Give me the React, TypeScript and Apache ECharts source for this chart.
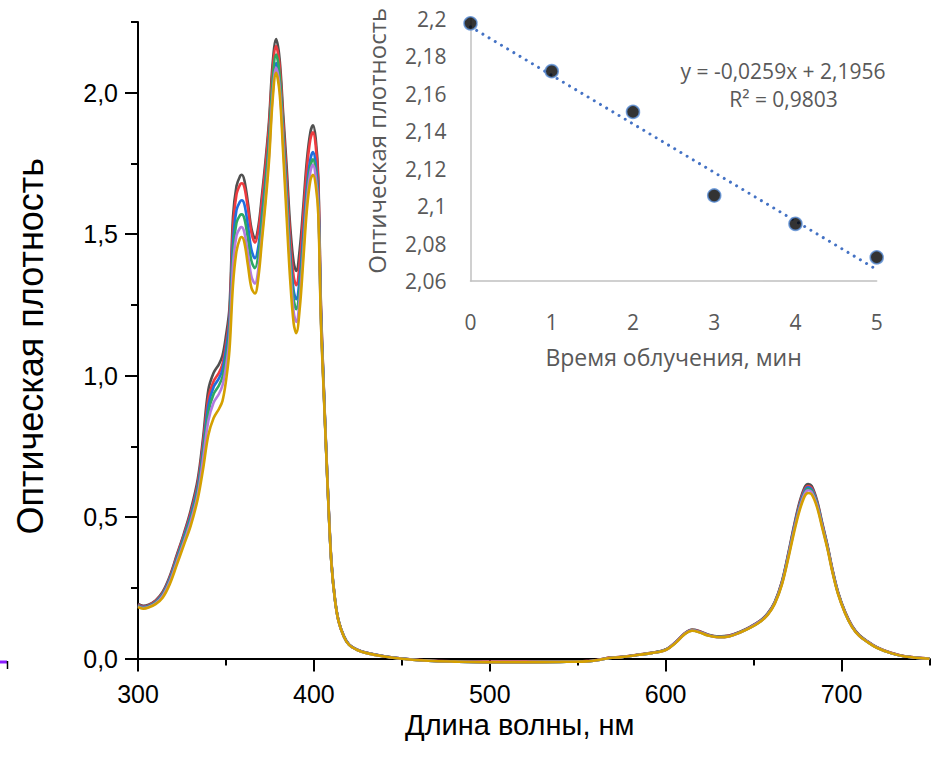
import React, { useEffect, useRef } from "react";
import * as echarts from "echarts";

// ---------- main spectrum data ----------
const wavelengths = [
  300, 303, 306, 310, 314, 318, 322, 326, 330, 334,
  337, 340, 343, 346, 348, 350, 352, 354, 356, 358,
  359, 360.5, 362.5, 364.5, 366.5, 368.5, 370.5, 372.5, 374.5, 376.5,
  378.5, 380.5, 382.5, 384.5, 386.5, 388.5, 390, 392, 394, 396,
  398, 399.5, 401, 402.5, 404,
  405.5, 407, 408.5, 410, 412, 414, 417, 420, 425, 430,
  440, 450, 465, 480, 500, 520, 540, 555, 562, 568,
  575, 585, 592, 600, 606, 611, 615, 619, 624, 630,
  636, 642, 648, 654, 658, 662, 666, 670, 673, 676,
  679, 681, 683, 686, 689, 692, 695, 698, 702, 706,
  710, 715, 720, 728, 736, 750,
];

const seriesNames = ["0 мин", "1 мин", "2 мин", "3 мин", "4 мин", "5 мин"];
const seriesColors = ["#505050", "#ee3b3f", "#1f6fdf", "#2da862", "#b27ae0", "#d4a000"];

const gray = [
  0.193, 0.186, 0.19, 0.205, 0.235, 0.29, 0.365, 0.44, 0.525, 0.635,
  0.78, 0.95, 1.01, 1.04, 1.07, 1.14, 1.24, 1.56, 1.67, 1.705,
  1.71, 1.69, 1.61, 1.52, 1.485, 1.53, 1.64, 1.76, 1.9, 2.1,
  2.19, 2.12, 1.93, 1.74, 1.53, 1.4, 1.37, 1.45, 1.6, 1.76,
  1.86, 1.885, 1.84, 1.7, 1.25,
  0.98, 0.74, 0.52, 0.34, 0.21, 0.135, 0.08, 0.05, 0.03, 0.02,
  0.008, 0, -0.007, -0.01, -0.012, -0.012, -0.011, -0.009, -0.004, 0.003,
  0.006, 0.014, 0.02, 0.032, 0.06, 0.09, 0.102, 0.097, 0.085, 0.078,
  0.081, 0.094, 0.112, 0.135, 0.16, 0.2, 0.27, 0.38, 0.47, 0.55,
  0.605, 0.617, 0.61, 0.56, 0.48, 0.4, 0.31, 0.235, 0.165, 0.115,
  0.083, 0.06, 0.04, 0.02, 0.008, 0,
];
const red = [
  0.19, 0.184, 0.188, 0.203, 0.232, 0.285, 0.36, 0.435, 0.515, 0.62,
  0.76, 0.92, 0.98, 1.01, 1.04, 1.11, 1.21, 1.52, 1.64, 1.675,
  1.68, 1.665, 1.59, 1.505, 1.47, 1.515, 1.62, 1.74, 1.88, 2.075,
  2.165, 2.095, 1.9, 1.7, 1.49, 1.35, 1.32, 1.405, 1.565, 1.73,
  1.835, 1.86, 1.815, 1.68, 1.24,
  0.975, 0.735, 0.515, 0.336, 0.208, 0.134, 0.079, 0.049, 0.03, 0.02,
  0.008, 0, -0.007, -0.01, -0.012, -0.012, -0.011, -0.009, -0.004, 0.003,
  0.006, 0.014, 0.02, 0.032, 0.06, 0.09, 0.101, 0.096, 0.084, 0.077,
  0.08, 0.093, 0.111, 0.134, 0.158, 0.198, 0.268, 0.376, 0.465, 0.543,
  0.597, 0.61, 0.603, 0.555, 0.476, 0.397, 0.308, 0.233, 0.164, 0.114,
  0.082, 0.059, 0.04, 0.02, 0.008, 0,
];
const blue = [
  0.188, 0.182, 0.186, 0.2, 0.228, 0.28, 0.353, 0.428, 0.505, 0.607,
  0.74, 0.895, 0.96, 0.99, 1.02, 1.09, 1.19, 1.47, 1.585, 1.615,
  1.62, 1.605, 1.53, 1.445, 1.415, 1.46, 1.57, 1.69, 1.83, 2.02,
  2.105, 2.04, 1.85, 1.65, 1.44, 1.3, 1.27, 1.35, 1.5, 1.665,
  1.765, 1.79, 1.75, 1.63, 1.22,
  0.97, 0.732, 0.513, 0.335, 0.207, 0.133, 0.079, 0.049, 0.03, 0.02,
  0.008, 0, -0.008, -0.011, -0.013, -0.013, -0.012, -0.01, -0.005, 0.002,
  0.005, 0.013, 0.019, 0.031, 0.059, 0.089, 0.1, 0.095, 0.083, 0.076,
  0.079, 0.092, 0.11, 0.133, 0.157, 0.197, 0.266, 0.373, 0.461, 0.538,
  0.592, 0.605, 0.598, 0.551, 0.473, 0.395, 0.306, 0.232, 0.163, 0.113,
  0.081, 0.058, 0.039, 0.019, 0.007, -0.001,
];
const green = [
  0.186, 0.18, 0.184, 0.198, 0.225, 0.275, 0.347, 0.42, 0.495, 0.595,
  0.725, 0.87, 0.935, 0.965, 0.995, 1.06, 1.16, 1.43, 1.54, 1.567,
  1.57, 1.555, 1.485, 1.405, 1.38, 1.43, 1.55, 1.68, 1.83, 2.04,
  2.135, 2.065, 1.86, 1.64, 1.42, 1.27, 1.235, 1.315, 1.47, 1.64,
  1.74, 1.765, 1.725, 1.61, 1.21,
  0.968, 0.731, 0.512, 0.334, 0.207, 0.133, 0.078, 0.048, 0.029, 0.019,
  0.007, -0.001, -0.008, -0.011, -0.013, -0.013, -0.012, -0.01, -0.005, 0.002,
  0.005, 0.013, 0.019, 0.031, 0.058, 0.088, 0.099, 0.094, 0.082, 0.076,
  0.079, 0.092, 0.109, 0.132, 0.156, 0.196, 0.264, 0.37, 0.457, 0.533,
  0.587, 0.6, 0.593, 0.547, 0.47, 0.393, 0.305, 0.231, 0.162, 0.112,
  0.081, 0.058, 0.039, 0.019, 0.007, -0.001,
];
const purple = [
  0.184, 0.178, 0.182, 0.195, 0.221, 0.27, 0.34, 0.41, 0.485, 0.58,
  0.705, 0.84, 0.905, 0.935, 0.965, 1.03, 1.13, 1.39, 1.495, 1.522,
  1.525, 1.505, 1.43, 1.35, 1.325, 1.38, 1.5, 1.63, 1.78, 1.99,
  2.088, 2.02, 1.82, 1.6, 1.38, 1.225, 1.19, 1.275, 1.44, 1.615,
  1.72, 1.745, 1.705, 1.595, 1.2,
  0.962, 0.73, 0.512, 0.334, 0.206, 0.132, 0.078, 0.048, 0.029, 0.019,
  0.007, -0.001, -0.008, -0.011, -0.013, -0.013, -0.012, -0.01, -0.005, 0.002,
  0.005, 0.013, 0.019, 0.03, 0.058, 0.088, 0.099, 0.094, 0.082, 0.075,
  0.078, 0.091, 0.109, 0.132, 0.155, 0.195, 0.262, 0.367, 0.453, 0.528,
  0.582, 0.595, 0.588, 0.543, 0.467, 0.391, 0.303, 0.23, 0.161, 0.112,
  0.08, 0.058, 0.039, 0.019, 0.007, -0.001,
];
const gold = [
  0.182, 0.176, 0.18, 0.192, 0.215, 0.262, 0.33, 0.4, 0.47, 0.565,
  0.67, 0.79, 0.85, 0.882, 0.91, 0.98, 1.09, 1.32, 1.44, 1.485,
  1.49, 1.47, 1.39, 1.31, 1.29, 1.35, 1.48, 1.61, 1.76, 1.97,
  2.07, 2.0, 1.79, 1.56, 1.34, 1.185, 1.15, 1.24, 1.41, 1.585,
  1.69, 1.71, 1.675, 1.57, 1.19,
  0.955, 0.728, 0.511, 0.333, 0.206, 0.132, 0.078, 0.048, 0.029, 0.019,
  0.007, -0.001, -0.008, -0.011, -0.013, -0.013, -0.012, -0.01, -0.005, 0.002,
  0.005, 0.013, 0.019, 0.03, 0.057, 0.087, 0.098, 0.093, 0.081, 0.075,
  0.078, 0.091, 0.108, 0.131, 0.154, 0.193, 0.259, 0.362, 0.446, 0.52,
  0.573, 0.585, 0.58, 0.536, 0.462, 0.387, 0.3, 0.228, 0.16, 0.111,
  0.08, 0.057, 0.038, 0.019, 0.007, -0.001,
];
const spectra = [gray, red, blue, green, purple, gold];

const mainXMajorTicks = [300, 400, 500, 600, 700];
const mainYMajorTicks = [0, 0.5, 1.0, 1.5, 2.0];

// ---------- inset data ----------
const timeMin = [0, 1, 2, 3, 4, 5];
const peakAbs = [2.1974, 2.1719, 2.1502, 2.1056, 2.0905, 2.0726];
const trendX = [0, 5];
const trendY = [2.1956, 2.0661];
const equationText = "y = -0,0259x + 2,1956";
const r2Text = "R² = 0,9803";

const MAIN_FONT = "'Liberation Sans', Arial, sans-serif";
const INSET_FONT = "'Open Sans', 'Noto Sans', sans-serif";

export default function App() {
  const ref = useRef<HTMLDivElement>(null);

  useEffect(() => {
    if (!ref.current) return;
    const chart = echarts.init(ref.current, undefined, { renderer: "svg" });

    const lineSeries = spectra.map((vals, si) => ({
      name: seriesNames[si],
      type: "line",
      xAxisIndex: 0,
      yAxisIndex: 0,
      data: wavelengths.map((w, i) => [w, vals[i]]),
      showSymbol: false,
      smooth: 0.35,
      clip: false,
      lineStyle: { color: seriesColors[si], width: 2.6 },
      itemStyle: { color: seriesColors[si] },
      z: 2 + si,
    }));

    const option: any = {
      animation: false,
      backgroundColor: "#ffffff",
      grid: [
        { left: 138, top: 22, right: 2.5, bottom: 103.5, containLabel: false },
        { left: 470.5, top: 18.5, right: 55.3, bottom: 481, containLabel: false },
      ],
      xAxis: [
        {
          type: "value", gridIndex: 0, min: 300, max: 750, interval: 50, position: "bottom",
          axisLine: { show: true, onZero: false, lineStyle: { color: "#000", width: 2 } },
          axisTick: { show: true, length: 7, lineStyle: { color: "#000", width: 2 } },
          axisLabel: { show: false },
          splitLine: { show: false },
        },
        {
          type: "value", gridIndex: 0, min: 300, max: 750, interval: 50, position: "bottom",
          axisLine: { show: false, onZero: false },
          axisTick: { show: true, length: 13, customValues: mainXMajorTicks, lineStyle: { color: "#000", width: 2 } },
          axisLabel: {
            show: true, customValues: mainXMajorTicks, fontSize: 25, color: "#000",
            fontFamily: MAIN_FONT, margin: 23,
          },
          splitLine: { show: false },
          name: "Длина волны, нм", nameLocation: "middle", nameGap: 52, nameMoveOverlap: false,
          nameTextStyle: { fontSize: 29, color: "#000", fontFamily: MAIN_FONT, padding: [0, 28, 0, 0] },
        },
        {
          type: "value", gridIndex: 1, min: 0, max: 5, interval: 1,
          axisLine: { show: true, onZero: false, lineStyle: { color: "#c0c0c0", width: 1.5 } },
          axisTick: { show: false },
          axisLabel: { fontSize: 21, color: "#595959", fontFamily: INSET_FONT, margin: 30 },
          splitLine: { show: false },
          name: "Время облучения, мин", nameLocation: "middle", nameGap: 64,
          nameTextStyle: { fontSize: 23, color: "#595959", fontFamily: INSET_FONT },
        },
      ],
      yAxis: [
        {
          type: "value", gridIndex: 0, min: 0, max: 2.25, interval: 0.25, position: "left",
          axisLine: { show: true, onZero: false, lineStyle: { color: "#000", width: 2 } },
          axisTick: { show: true, length: 7, lineStyle: { color: "#000", width: 2 } },
          axisLabel: { show: false },
          splitLine: { show: false },
          name: "Оптическая плотность", nameLocation: "middle", nameGap: 90, nameMoveOverlap: false,
          nameTextStyle: { fontSize: 36, color: "#000", fontFamily: MAIN_FONT, padding: [0, 12, 0, 0] },
        },
        {
          type: "value", gridIndex: 0, min: 0, max: 2.25, interval: 0.25, position: "left",
          axisLine: { show: false, onZero: false },
          axisTick: { show: true, length: 13, customValues: mainYMajorTicks, lineStyle: { color: "#000", width: 2 } },
          axisLabel: {
            show: true, customValues: mainYMajorTicks, fontSize: 25, color: "#000",
            fontFamily: MAIN_FONT, margin: 20,
            formatter: (v: number) => v.toFixed(1).replace(".", ","),
          },
          splitLine: { show: false },
        },
        {
          type: "value", gridIndex: 1, min: 2.06, max: 2.2, interval: 0.02,
          axisLine: { show: true, onZero: false, lineStyle: { color: "#c0c0c0", width: 1.5 } },
          axisTick: { show: false },
          axisLabel: {
            fontSize: 21, color: "#595959", fontFamily: INSET_FONT, margin: 24,
            formatter: (v: number) => String(parseFloat(v.toFixed(2))).replace(".", ","),
          },
          splitLine: { show: false },
          name: "Оптическая плотность", nameLocation: "middle", nameGap: 82,
          nameTextStyle: { fontSize: 24, color: "#595959", fontFamily: INSET_FONT, padding: [0, 0, 0, 18] },
        },
      ],
      series: [
        ...lineSeries,
        {
          name: "trend",
          type: "line",
          xAxisIndex: 2,
          yAxisIndex: 2,
          data: trendX.map((x, i) => [x, trendY[i]]),
          showSymbol: false,
          clip: false,
          lineStyle: { color: "#4472c4", width: 3, type: [0.01, 7.2], cap: "round" },
          z: 10,
        },
        {
          name: "points",
          type: "scatter",
          xAxisIndex: 2,
          yAxisIndex: 2,
          data: timeMin.map((t, i) => [t, peakAbs[i]]),
          symbol: "circle",
          symbolSize: 13,
          clip: false,
          itemStyle: { color: "#000", borderColor: "#5b8fd6", borderWidth: 1.6 },
          z: 11,
        },
      ],
      graphic: [
        {
          type: "text", x: 783, y: 71,
          style: {
            text: equationText, fill: "#595959", fontSize: 21, fontFamily: INSET_FONT,
            textAlign: "center", textVerticalAlign: "middle",
          },
        },
        {
          type: "text", x: 783.5, y: 98.5,
          style: {
            text: r2Text, fill: "#595959", fontSize: 21, fontFamily: INSET_FONT,
            textAlign: "center", textVerticalAlign: "middle",
          },
        },
        {
          type: "line", shape: { x1: 0, y1: 662, x2: 7, y2: 662 },
          style: { stroke: "#8a1cff", lineWidth: 3 },
        },
        {
          type: "line", shape: { x1: 7.5, y1: 661, x2: 7.5, y2: 669 },
          style: { stroke: "#000", lineWidth: 1.5 },
        },
      ],
    };

    chart.setOption(option);
    return () => chart.dispose();
  }, []);

  return (
    <div
      ref={ref}
      style={{ position: "absolute", left: 0, top: 0, width: 932, height: 762, background: "#fff" }}
    />
  );
}
